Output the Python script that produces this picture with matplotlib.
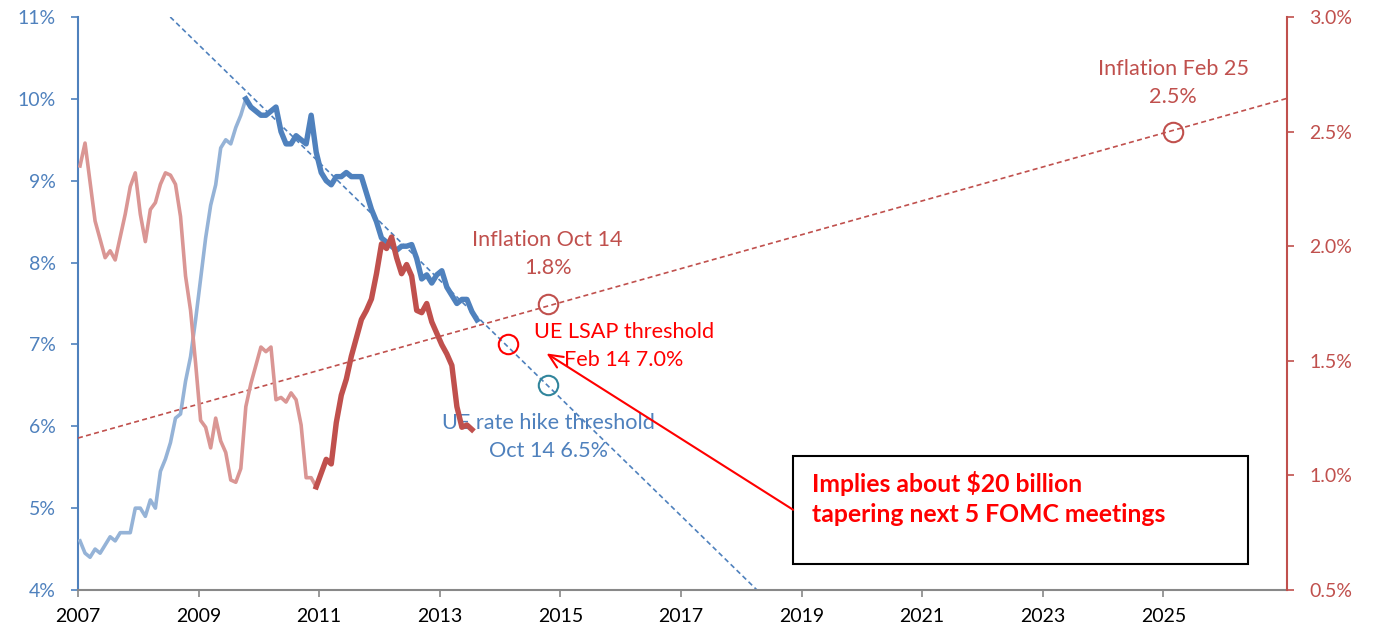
import matplotlib
matplotlib.use('Agg')

import matplotlib.pyplot as plt
import numpy as np
from matplotlib.patches import Rectangle

plt.rcParams['font.family'] = ['Lato', 'DejaVu Sans']

# Unemployment rate (%), monthly from Jan 2007
ue_early = [4.6, 4.45, 4.4, 4.5, 4.45, 4.55, 4.65, 4.6, 4.7, 4.7, 4.7, 5.0,
            5.0, 4.9, 5.1, 5.0, 5.45, 5.6, 5.8, 6.1, 6.15, 6.55, 6.85, 7.3,
            7.8, 8.3, 8.7, 8.95, 9.4, 9.5, 9.45, 9.65, 9.8, 10.0]
ue_late = [10.0, 9.9, 9.85, 9.8, 9.8, 9.85, 9.9, 9.6, 9.45, 9.45, 9.55, 9.5,
           9.45, 9.8, 9.35, 9.1, 9.0, 8.95, 9.05, 9.05, 9.1, 9.05, 9.05, 9.05,
           8.85, 8.65, 8.5, 8.3, 8.25, 8.2, 8.15, 8.2, 8.2, 8.22, 8.05, 7.8,
           7.85, 7.75, 7.85, 7.9, 7.7, 7.6, 7.5, 7.55, 7.55, 7.4, 7.3]
ue_late_start = 33  # Oct 2009

# Inflation (%), monthly from Jan 2007
infl_early = [2.35, 2.45, 2.28, 2.11, 2.03, 1.95, 1.98, 1.94, 2.04, 2.14, 2.26, 2.32,
              2.14, 2.02, 2.16, 2.19, 2.27, 2.32, 2.31, 2.27, 2.13, 1.87, 1.72, 1.49,
              1.24, 1.21, 1.12, 1.25, 1.15, 1.10, 0.98, 0.97, 1.03, 1.30, 1.40, 1.48,
              1.56, 1.54, 1.56, 1.33, 1.34, 1.32, 1.36, 1.33, 1.22, 0.99, 0.99, 0.95]
infl_late = [0.95, 1.01, 1.07, 1.05, 1.23, 1.35, 1.42, 1.52, 1.60, 1.68, 1.72, 1.77,
             1.88, 2.01, 1.99, 2.04, 1.95, 1.88, 1.92, 1.87, 1.72, 1.71, 1.75, 1.67,
             1.62, 1.57, 1.53, 1.48, 1.30, 1.21, 1.22, 1.20]
infl_late_start = 47  # Dec 2010

# trend lines (year, value)
ue_trend_x = [2008.53, 2018.26]
ue_trend_y = [11.0, 4.0]
infl_trend_x = [2007.0, 2027.05]
infl_trend_y = [1.163, 2.645]

# marked points
lsap_pt = (2014.125, 7.0)
hike_pt = (2014.79, 6.5)
infl_oct14 = (2014.79, 1.75)
infl_feb25 = (2025.16, 2.5)

BLUE = '#4F81BD'
LBLUE = '#95B3D7'
RED = '#C0504D'
LRED = '#DA9694'
TEAL = '#31859C'


def month_x(start, n):
    return 2007 + (start + np.arange(n) + 0.4) / 12.0


fig = plt.figure(figsize=(13.74, 6.35), dpi=100)
ax = fig.add_axes([78 / 1374, 45 / 635, (1287 - 78) / 1374, (590 - 17) / 635])
ax2 = ax.twinx()

# left axis: unemployment
ax.plot(month_x(0, len(ue_early)), ue_early, color=LBLUE, lw=2.6, solid_joinstyle='round', zorder=3)
ax.plot(month_x(ue_late_start, len(ue_late)), ue_late, color=BLUE, lw=3.9, solid_joinstyle='round', zorder=4)
ax.plot(ue_trend_x, ue_trend_y, color=BLUE, lw=1.2, ls=(0, (3, 2)), zorder=2)

# right axis: inflation
ax2.plot(month_x(0, len(infl_early)), infl_early, color=LRED, lw=2.6, solid_joinstyle='round', zorder=3)
ax2.plot(month_x(infl_late_start, len(infl_late)), infl_late, color=RED, lw=3.9, solid_joinstyle='round', zorder=4)
ax2.plot(infl_trend_x, infl_trend_y, color=RED, lw=1.2, ls=(0, (3, 2)), zorder=2)

# circles
ax.plot(*lsap_pt, 'o', ms=14, mfc='none', mec='#FF0000', mew=1.5, zorder=5)
ax.plot(*hike_pt, 'o', ms=14, mfc='none', mec=TEAL, mew=1.5, zorder=5)
ax2.plot(*infl_oct14, 'o', ms=14, mfc='none', mec=RED, mew=1.5, zorder=5)
ax2.plot(*infl_feb25, 'o', ms=14, mfc='none', mec=RED, mew=1.5, zorder=5)

# limits / ticks
ax.set_xlim(2007, 2027.05)
ax.set_ylim(4, 11)
ax2.set_ylim(0.5, 3.0)
ax.set_xticks(np.arange(2007, 2026, 2))
ax.set_yticks(np.arange(4, 12, 1))
ax2.set_yticks(np.arange(0.5, 3.01, 0.5))
ax.set_yticklabels([f'{v}%' for v in range(4, 12)])
ax2.set_yticklabels([f'{v:.1f}%' for v in np.arange(0.5, 3.01, 0.5)])

for a in (ax, ax2):
    a.spines['top'].set_visible(False)
ax.spines['right'].set_visible(False)
ax2.spines['left'].set_visible(False)
ax2.spines['bottom'].set_visible(False)
ax.spines['left'].set_color(BLUE)
ax.spines['left'].set_linewidth(1.5)
ax2.spines['right'].set_color(RED)
ax2.spines['right'].set_linewidth(1.5)
ax.spines['bottom'].set_color('#888888')
ax.spines['bottom'].set_linewidth(1.5)

ax.tick_params(axis='y', colors=BLUE, labelcolor=BLUE, labelsize=14, length=5, width=1.2, pad=11)
ax2.tick_params(axis='y', colors=RED, labelcolor=RED, labelsize=14, length=5, width=1.2, pad=11)
ax.tick_params(axis='x', colors='#888888', labelcolor='black', labelsize=14, length=5, width=1.2, pad=8)

# annotations
ax2.text(2025.16, 2.714, 'Inflation Feb 25\n2.5%', color=RED, fontsize=15.6, ha='center', va='center',
         linespacing=1.5)
ax2.text(2014.79, 1.966, 'Inflation Oct 14\n1.8%', color=RED, fontsize=15.6, ha='center', va='center',
         linespacing=1.5)
ax.text(2016.05, 6.98, 'UE LSAP threshold\nFeb 14 7.0%', color='#FF0000', fontsize=15.6, ha='center',
        va='center', linespacing=1.5)
ax.text(2014.8, 5.872, 'UE rate hike threshold\nOct 14 6.5%', color=BLUE, fontsize=15.6, ha='center',
        va='center', linespacing=1.5)

box_x0, box_x1 = 2018.86, 2026.40
box_y0, box_y1 = 4.317, 5.636
ax.add_patch(Rectangle((box_x0, box_y0), box_x1 - box_x0, box_y1 - box_y0, fill=True,
                       facecolor='white', edgecolor='black', lw=1.5, zorder=6))
ax.text(2019.17, 5.45, 'Implies about $20 billion\ntapering next 5 FOMC meetings', color='#FF0000',
        fontsize=17.8, fontweight='bold', ha='left', va='top', linespacing=1.36, zorder=7)
ax.annotate('', xy=(2014.77, 6.89), xytext=(box_x0, 4.98),
            arrowprops=dict(arrowstyle='->,head_length=1.0,head_width=0.45', color='#FF0000', lw=1.5,
                            shrinkA=0, shrinkB=0), zorder=6)

fig.savefig('out.png', dpi=100)
